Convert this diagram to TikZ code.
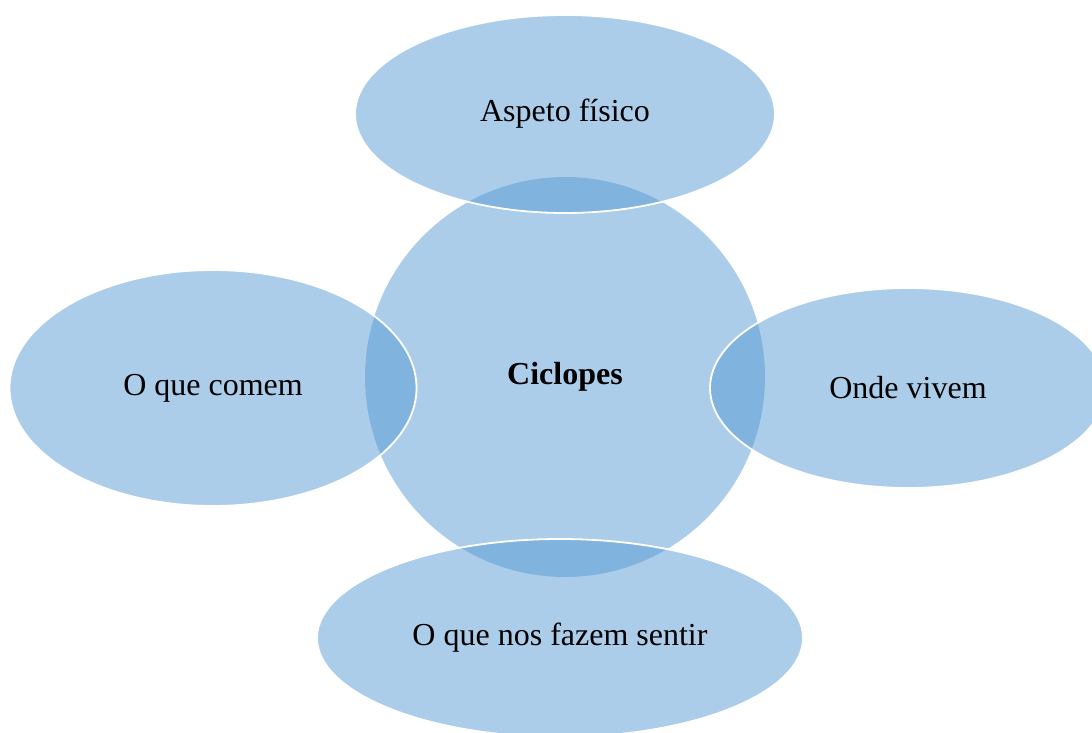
\documentclass[tikz,border=0pt]{standalone}
\usepackage{fontspec}
\setmainfont{Liberation Serif}
\usetikzlibrary{shapes.geometric}
\definecolor{bubblefill}{RGB}{82,151,211}
\tikzset{
	bubble/.style={ellipse, inner sep=0pt, fill=bubblefill, fill opacity=0.48,
		text opacity=1, draw=white, line width=1.8pt, font=\fontsize{32}{36}\selectfont},
	hub/.style={circle, inner sep=0pt, minimum size=400pt, fill=bubblefill,
		fill opacity=0.48, text opacity=1, font=\fontsize{32}{36}\selectfont\bfseries}
}
\begin{document}
\begin{tikzpicture}[x=1pt, y=-1pt]
		\useasboundingbox (0,0) rectangle (1092,733);
		\clip (0,0) rectangle (1092,733);
		\node (ciclopes) [hub] at (565,377) {Ciclopes};
		\node (fisico) [bubble, minimum width=420pt, minimum height=198pt] at (565,114) {Aspeto físico};
		\node (comem) [bubble, minimum width=407pt, minimum height=236pt] at (213,388) {O que comem};
		\node (vivem) [bubble, minimum width=396pt, minimum height=200pt] at (908,388) {Onde vivem};
		\node (sentir) [bubble, minimum width=486pt, minimum height=198pt] at (560,638) {O que nos fazem sentir};
		\end{tikzpicture}
\end{document}
